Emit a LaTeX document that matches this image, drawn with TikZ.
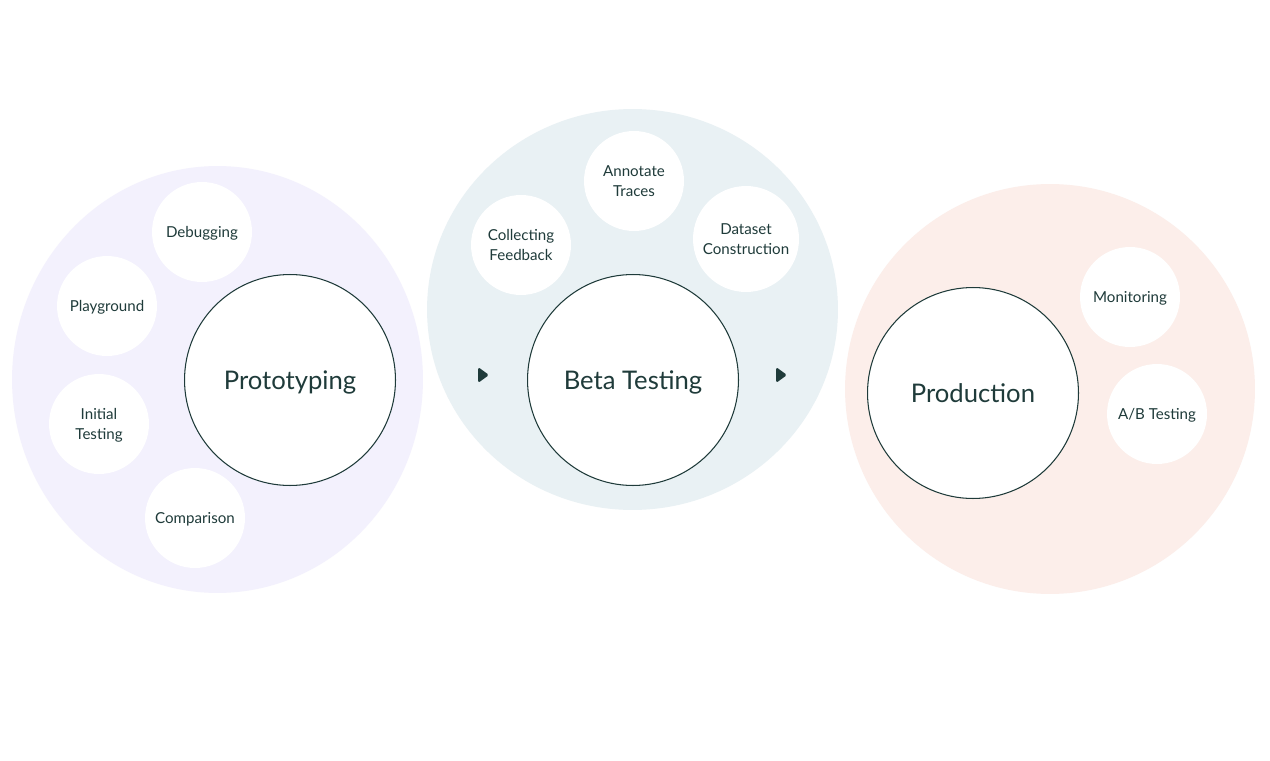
\documentclass[tikz,border=0pt]{standalone}
\usepackage{fontspec}
\setmainfont{Lato}
\definecolor{LavBg}{HTML}{F3F1FD}
\definecolor{MistBg}{HTML}{E9F1F4}
\definecolor{PeachBg}{HTML}{FCEEEA}
\definecolor{TealInk}{HTML}{1F3B3A}
\usetikzlibrary{positioning,shapes.geometric}

\begin{document}
\begin{tikzpicture}[x=0.02cm,y=-0.02cm,
  stage/.style={ellipse,inner sep=0pt,minimum width=8.22cm,minimum height=8.22cm},
  phase/.style={circle,draw=TealInk,fill=white,line width=0.6pt,inner sep=0pt,
    minimum size=4.22cm,text=TealInk,text depth=0pt,font=\fontsize{14.6}{17}\selectfont},
  task/.style={circle,fill=white,inner sep=0pt,minimum size=2cm,align=center,
    text=TealInk,text depth=0pt,font=\fontsize{8.6}{11}\selectfont}]
  \useasboundingbox[fill=white] (0,0) rectangle (1270,760);

  % background blobs
  \node[stage,fill=LavBg,minimum height=8.54cm] (protoBg) at (217.5,379.5) {};
  \node[stage,fill=MistBg,minimum height=8.02cm] (betaBg) at (632.5,309.5) {};
  \node[stage,fill=PeachBg,minimum width=8.2cm,minimum height=8.2cm] (prodBg) at (1050,389) {};

  % prototyping
  \node[phase] (proto) at (290,380) {Prototyping};
  \node[task] (debug) at (202,232) {Debugging};
  \node[task] (play) at (107,306) {Playground};
  \node[task] (init) at (99,424) {Initial\\Testing};
  \node[task] (comp) at (195,518) {Comparison};

  % beta testing
  \node[phase] (beta) at (633,380) {Beta Testing};
  \node[task] (collect) at (521,245) {Collecting\\Feedback};
  \node[task] (annot) at (634,181) {Annotate\\Traces};
  \node[task,minimum size=2.12cm] (dataset) at (746,239) {Dataset\\Construction};

  % production
  \node[phase] (prod) at (973,393) {Production};
  \node[task] (monit) at (1130,297) {Monitoring};
  \node[task] (abtest) at (1157,414) {A/B Testing};

  % small arrow heads
  \foreach \x in {483,781}
    \fill[TealInk,rounded corners=1pt] (\x-5,367) -- (\x+6,375) -- (\x-5,383) -- cycle;
\end{tikzpicture}
\end{document}
